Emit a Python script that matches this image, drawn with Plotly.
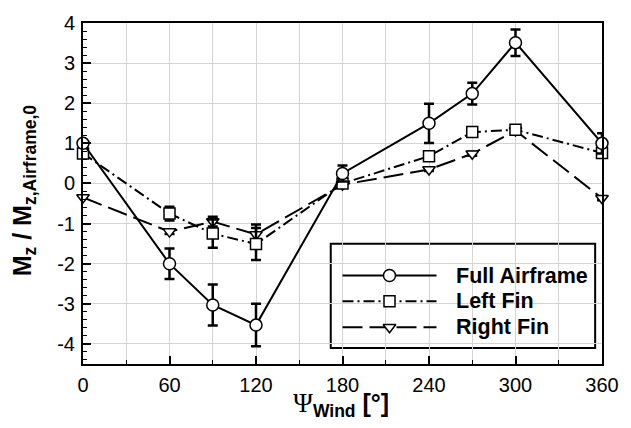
import plotly.graph_objects as go

# Wind heading angle [deg]
psi_wind = [0, 60, 90, 120, 180, 240, 270, 300, 360]

# Normalised yawing moment per configuration, with uncertainty
full_airframe = [1.0, -2.0, -3.03, -3.53, 0.25, 1.5, 2.24, 3.51, 1.0]
full_airframe_err = [0.0, 0.38, 0.51, 0.53, 0.2, 0.49, 0.27, 0.33, 0.25]

left_fin = [0.75, -0.75, -1.25, -1.51, 0.0, 0.68, 1.28, 1.34, 0.76]
left_fin_err = [0.0, 0.17, 0.35, 0.4, 0.04, 0.05, 0.06, 0.08, 0.05]

right_fin = [-0.35, -1.2, -0.95, -1.27, -0.03, 0.35, 0.74, 1.32, -0.37]
right_fin_err = [0.0, 0.06, 0.12, 0.25, 0.04, 0.04, 0.05, 0.08, 0.05]

x_ticks = [0, 60, 120, 180, 240, 300, 360]
y_ticks = [-4, -3, -2, -1, 0, 1, 2, 3, 4]

series_names = ["Full Airframe", "Left Fin", "Right Fin"]

FONT = "Liberation Sans, Arial, sans-serif"
W, H = 631, 428
L, R, T, B = 83, 18, 21, 64

styles = {
    "Full Airframe": dict(dash="solid", symbol="circle", size=12),
    "Left Fin": dict(dash="11px,4px,2px,4px", symbol="square", size=11),
    "Right Fin": dict(dash="20px,7px", symbol="triangle-down", size=11),
}

fig = go.Figure()

for name, ys, errs in [
    ("Right Fin", right_fin, right_fin_err),
    ("Left Fin", left_fin, left_fin_err),
    ("Full Airframe", full_airframe, full_airframe_err),
]:
    st = styles[name]
    fig.add_trace(go.Scatter(
        x=psi_wind, y=ys, name=name, mode="lines+markers", showlegend=False,
        cliponaxis=False,
        line=dict(color="black", width=2, dash=st["dash"]),
        marker=dict(symbol=st["symbol"], size=st["size"], color="white",
                    line=dict(color="black", width=1.5)),
        error_y=dict(type="data", array=errs, visible=True, color="black",
                     thickness=2.5, width=5),
    ))

# Legend drawn on a pixel-scaled overlay axis so the line samples are long
leg_rows = [275, 301, 327]
for name, yrow in zip(series_names, leg_rows):
    st = styles[name]
    fig.add_trace(go.Scatter(
        x=[348, 444], y=[yrow, yrow], xaxis="x2", yaxis="y2", mode="lines",
        showlegend=False, hoverinfo="skip",
        line=dict(color="black", width=2, dash=st["dash"]),
    ))
    fig.add_trace(go.Scatter(
        x=[396], y=[yrow], xaxis="x2", yaxis="y2", mode="markers",
        showlegend=False, hoverinfo="skip",
        marker=dict(symbol=st["symbol"], size=st["size"], color="white",
                    line=dict(color="black", width=1.5)),
    ))
    fig.add_annotation(
        x=462, y=yrow, xref="x2", yref="y2", text=f"<b>{name}</b>",
        showarrow=False, xanchor="left", yanchor="middle",
        font=dict(family=FONT, size=21.5, color="black"),
    )

fig.add_shape(type="rect", xref="x2", yref="y2", x0=336, x1=606, y0=243, y1=348,
              line=dict(color="black", width=2), fillcolor="white", layer="below")

axis_common = dict(
    showline=True, linecolor="black", linewidth=2, mirror=True,
    ticks="inside", ticklen=8, tickwidth=1.5, tickcolor="black",
    tickfont=dict(family=FONT, size=20, color="black"),
    showgrid=True, gridcolor="#d4d4d4", gridwidth=1, zeroline=False,
)

fig.update_layout(
    width=W, height=H,
    margin=dict(l=L, r=R, t=T, b=B),
    paper_bgcolor="white", plot_bgcolor="white",
    xaxis=dict(
        range=[0, 360], tickvals=x_ticks, ticktext=[str(v) for v in x_ticks],
        minor=dict(dtick=30, tick0=0, ticks="inside", ticklen=4, tickwidth=1.2,
                   tickcolor="black", showgrid=True, gridcolor="#d4d4d4", gridwidth=1),
        ticklabelstandoff=2,
        **axis_common,
    ),
    yaxis=dict(
        range=[-4.5, 4], tickvals=y_ticks, ticktext=[str(v) for v in y_ticks],
        minor=dict(dtick=0.2, tick0=0, ticks="inside", ticklen=4, tickwidth=1.2,
                   tickcolor="black", showgrid=False),
        ticklabelstandoff=2,
        **axis_common,
    ),
    xaxis2=dict(range=[L, W - R], overlaying="x", visible=False, fixedrange=True),
    yaxis2=dict(range=[H - B, T], overlaying="y", visible=False, fixedrange=True),
)

# Axis titles
fig.add_annotation(
    x=(23 - L) / (W - L - R), y=0.51, xref="paper", yref="paper",
    text='<b>M<sub>z</sub> / M<sub>z,Airframe,0</sub></b>',
    textangle=-90, showarrow=False, xanchor="center", yanchor="middle",
    font=dict(family=FONT, size=25, color="black"),
)
fig.add_annotation(
    x=(346 - L) / (W - L - R), y=(H - B - 405) / (H - B - T), xref="paper", yref="paper",
    text='<span style="font-family:Liberation Serif;font-size:27px">Ψ</span>'
         '<sub><b>Wind</b></sub> <b>[°]</b>',
    showarrow=False, xanchor="center", yanchor="middle",
    font=dict(family=FONT, size=25, color="black"),
)

fig.write_html("out.html")
